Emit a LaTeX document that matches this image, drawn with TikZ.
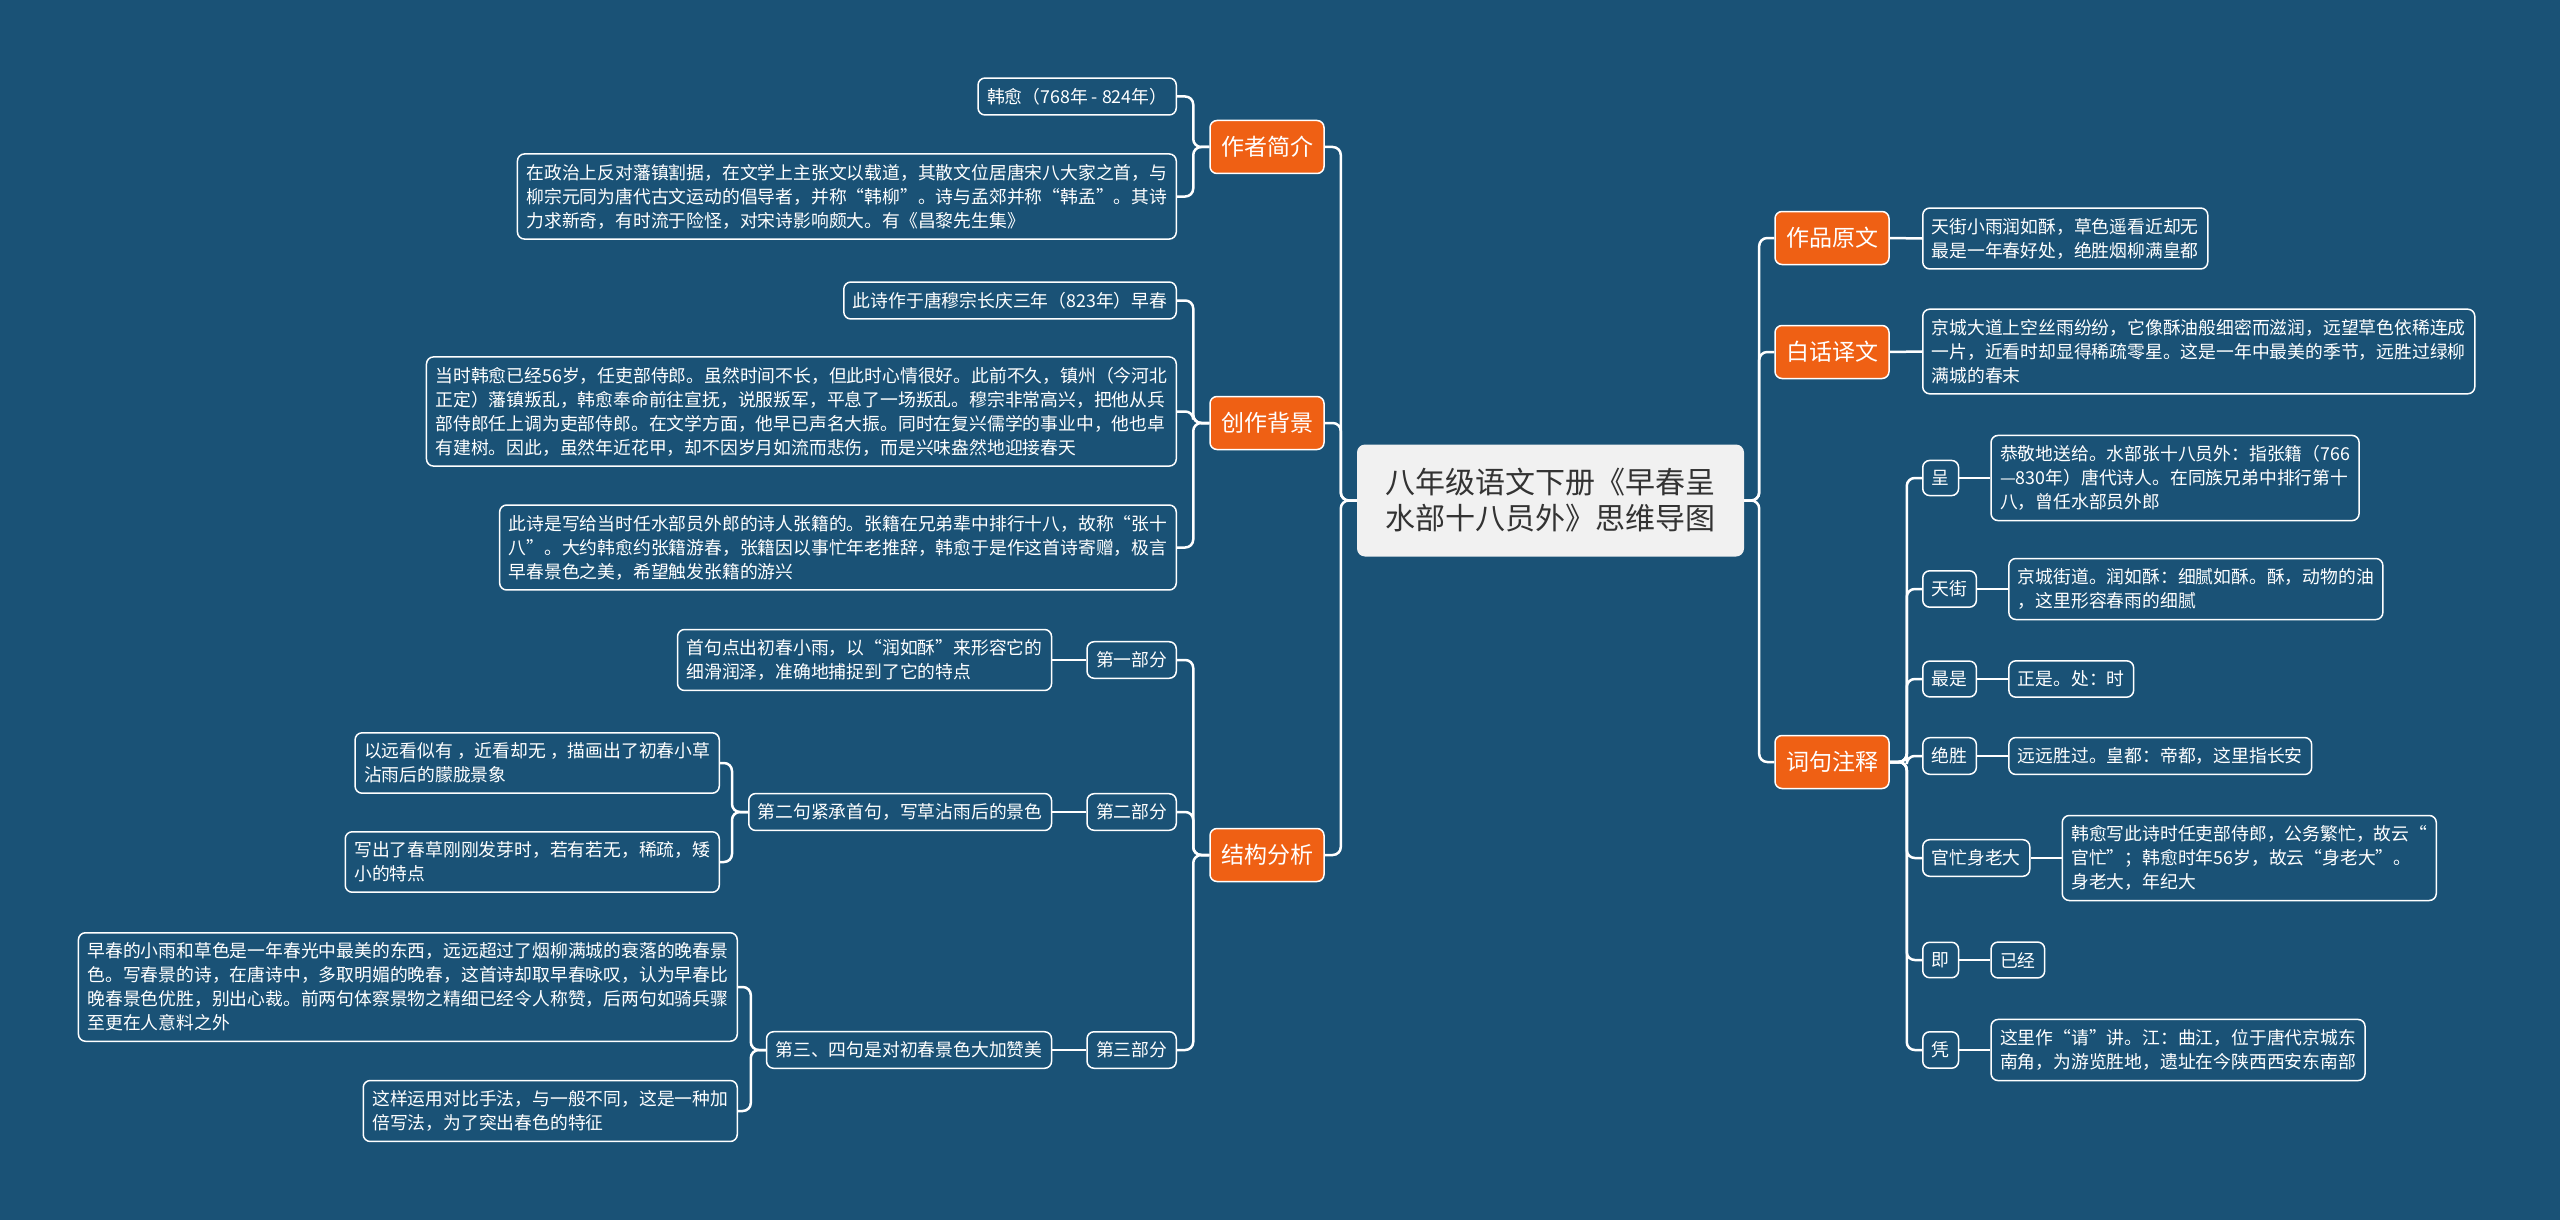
\documentclass[tikz,border=0pt]{standalone}
\usepackage{fontspec}
\setmainfont{Noto Sans CJK SC}
\usetikzlibrary{positioning}
\definecolor{mapbg}{RGB}{26,82,118}
\definecolor{topicorange}{RGB}{239,96,20}
\definecolor{rootgray}{RGB}{241,241,241}
\definecolor{roottext}{RGB}{51,51,51}

\begin{document}
\begin{tikzpicture}[x=1pt,y=-1pt,
  root/.style={fill=rootgray, rounded corners=8pt, text=roottext, align=center,
    font=\fontsize{30}{36}\selectfont, minimum width=387pt, minimum height=112pt},
  topic/.style={fill=topicorange, draw=white, line width=1.5pt, rounded corners=7pt,
    text=white, font=\fontsize{23}{28}\selectfont, minimum width=114pt, minimum height=53pt, inner sep=0pt},
  leaf/.style={fill=mapbg, draw=white, line width=1.5pt, rounded corners=7pt, text=white,
    align=left, font=\fontsize{17.8}{24}\selectfont, inner xsep=9pt, inner ysep=10pt},
  link/.style={draw=white, line width=2.5pt, rounded corners=8pt}]

  \fill[mapbg] (0,0) rectangle (2560,1220);

  % centre
  \node[root] (root) at (1550.5,500.5) {八年级语文下册《早春呈\\水部十八员外》思维导图};

  % left branches
  \node[topic] (author) at (1267,147) {作者简介};
  \node[topic] (backgr) at (1267,423) {创作背景};
  \node[topic] (struct) at (1267,855) {结构分析};

  \node[leaf, anchor=east] (han) at (1177,96.5) {韩愈（768年 - 824年）};
  \node[leaf, anchor=east] (politic) at (1177,196.5) {在政治上反对藩镇割据，在文学上主张文以载道，其散文位居唐宋八大家之首，与\\柳宗元同为唐代古文运动的倡导者，并称“韩柳”。诗与孟郊并称“韩孟”。其诗\\力求新奇，有时流于险怪，对宋诗影响颇大。有《昌黎先生集》};

  \node[leaf, anchor=east] (written) at (1177,300.5) {此诗作于唐穆宗长庆三年（823年）早春};
  \node[leaf, anchor=east] (then) at (1177,411.5) {当时韩愈已经56岁，任吏部侍郎。虽然时间不长，但此时心情很好。此前不久，镇州（今河北\\正定）藩镇叛乱，韩愈奉命前往宣抚，说服叛军，平息了一场叛乱。穆宗非常高兴，把他从兵\\部侍郎任上调为吏部侍郎。在文学方面，他早已声名大振。同时在复兴儒学的事业中，他也卓\\有建树。因此，虽然年近花甲，却不因岁月如流而悲伤，而是兴味盎然地迎接春天};
  \node[leaf, anchor=east] (gift) at (1177,547.5) {此诗是写给当时任水部员外郎的诗人张籍的。张籍在兄弟辈中排行十八，故称“张十\\八”。大约韩愈约张籍游春，张籍因以事忙年老推辞，韩愈于是作这首诗寄赠，极言\\早春景色之美，希望触发张籍的游兴};

  \node[leaf, anchor=east] (partone) at (1177,660) {第一部分};
  \node[leaf, anchor=east] (parttwo) at (1177,812) {第二部分};
  \node[leaf, anchor=east] (partthree) at (1177,1050) {第三部分};

  \node[leaf, left=34pt of partone] (onetxt) {首句点出初春小雨，以“润如酥”来形容它的\\细滑润泽，准确地捕捉到了它的特点};
  \node[leaf, left=34pt of parttwo] (twotxt) {第二句紧承首句，写草沾雨后的景色};
  \node[leaf, anchor=east] (twoa) at (720,763) {以远看似有 ，近看却无 ，描画出了初春小草\\沾雨后的朦胧景象};
  \node[leaf, anchor=east] (twob) at (720,862) {写出了春草刚刚发芽时，若有若无，稀疏，矮\\小的特点};
  \node[leaf, left=34pt of partthree] (threetxt) {第三、四句是对初春景色大加赞美};
  \node[leaf, anchor=east] (threea) at (738,987) {早春的小雨和草色是一年春光中最美的东西，远远超过了烟柳满城的衰落的晚春景\\色。写春景的诗，在唐诗中，多取明媚的晚春，这首诗却取早春咏叹，认为早春比\\晚春景色优胜，别出心裁。前两句体察景物之精细已经令人称赞，后两句如骑兵骤\\至更在人意料之外};
  \node[leaf, anchor=east] (threeb) at (738,1111) {这样运用对比手法，与一般不同，这是一种加\\倍写法，为了突出春色的特征};

  % right branches
  \node[topic] (original) at (1832,238) {作品原文};
  \node[topic] (vernac) at (1832,352) {白话译文};
  \node[topic] (notes) at (1832,762) {词句注释};

  \node[leaf, anchor=west] (poem) at (1922,238.5) {天街小雨润如酥，草色遥看近却无\\最是一年春好处，绝胜烟柳满皇都};
  \node[leaf, anchor=west] (trans) at (1922,351.5) {京城大道上空丝雨纷纷，它像酥油般细密而滋润，远望草色依稀连成\\一片，近看时却显得稀疏零星。这是一年中最美的季节，远胜过绿柳\\满城的春末};

  \node[leaf, anchor=west] (cheng) at (1922,478) {呈};
  \node[leaf, anchor=west] (tianjie) at (1922,589) {天街};
  \node[leaf, anchor=west] (zuishi) at (1922,679) {最是};
  \node[leaf, anchor=west] (jueshe) at (1922,756) {绝胜};
  \node[leaf, anchor=west] (guanmang) at (1922,858) {官忙身老大};
  \node[leaf, anchor=west] (jiword) at (1922,960) {即};
  \node[leaf, anchor=west] (ping) at (1922,1050) {凭};

  \node[leaf, right=31pt of cheng] (chengtxt) {恭敬地送给。水部张十八员外：指张籍（766\\—830年）唐代诗人。在同族兄弟中排行第十\\八，曾任水部员外郎};
  \node[leaf, right=31pt of tianjie] (tianjietxt) {京城街道。润如酥：细腻如酥。酥，动物的油\\，这里形容春雨的细腻};
  \node[leaf, right=31pt of zuishi] (zuishitxt) {正是。处：时};
  \node[leaf, right=31pt of jueshe] (jueshetxt) {远远胜过。皇都：帝都，这里指长安};
  \node[leaf, right=31pt of guanmang] (guanmangtxt) {韩愈写此诗时任吏部侍郎，公务繁忙，故云“\\官忙”；韩愈时年56岁，故云“身老大”。\\身老大，年纪大};
  \node[leaf, right=31pt of jiword] (jiwordtxt) {已经};
  \node[leaf, right=31pt of ping] (pingtxt) {这里作“请”讲。江：曲江，位于唐代京城东\\南角，为游览胜地，遗址在今陕西西安东南部};

  % connectors, left
  \foreach \kid in {author,backgr,struct}
    \draw[link] (root.west) -- +(-16,0) |- (\kid.east);
  \foreach \kid in {han,politic}
    \draw[link] (author.west) -- +(-16,0) |- (\kid.east);
  \foreach \kid in {written,then,gift}
    \draw[link] (backgr.west) -- +(-16,0) |- (\kid.east);
  \foreach \kid in {partone,parttwo,partthree}
    \draw[link] (struct.west) -- +(-16,0) |- (\kid.east);
  \draw[link] (partone.west) -- (onetxt.east);
  \draw[link] (parttwo.west) -- (twotxt.east);
  \draw[link] (partthree.west) -- (threetxt.east);
  \foreach \kid in {twoa,twob}
    \draw[link] (twotxt.west) -- +(-16,0) |- (\kid.east);
  \foreach \kid in {threea,threeb}
    \draw[link] (threetxt.west) -- +(-15,0) |- (\kid.east);

  % connectors, right
  \foreach \kid in {original,vernac,notes}
    \draw[link] (root.east) -- +(15,0) |- (\kid.west);
  \draw[link] (original.east) -- (poem.west);
  \draw[link] (vernac.east) -- (trans.west);
  \foreach \kid in {cheng,tianjie,zuishi,jueshe,guanmang,jiword,ping}
    \draw[link] (notes.east) -- +(17,0) |- (\kid.west);
  \foreach \kid in {cheng,tianjie,zuishi,jueshe,guanmang,jiword,ping}
    \draw[link] (\kid.east) -- (\kid txt.west);
\end{tikzpicture}
\end{document}
